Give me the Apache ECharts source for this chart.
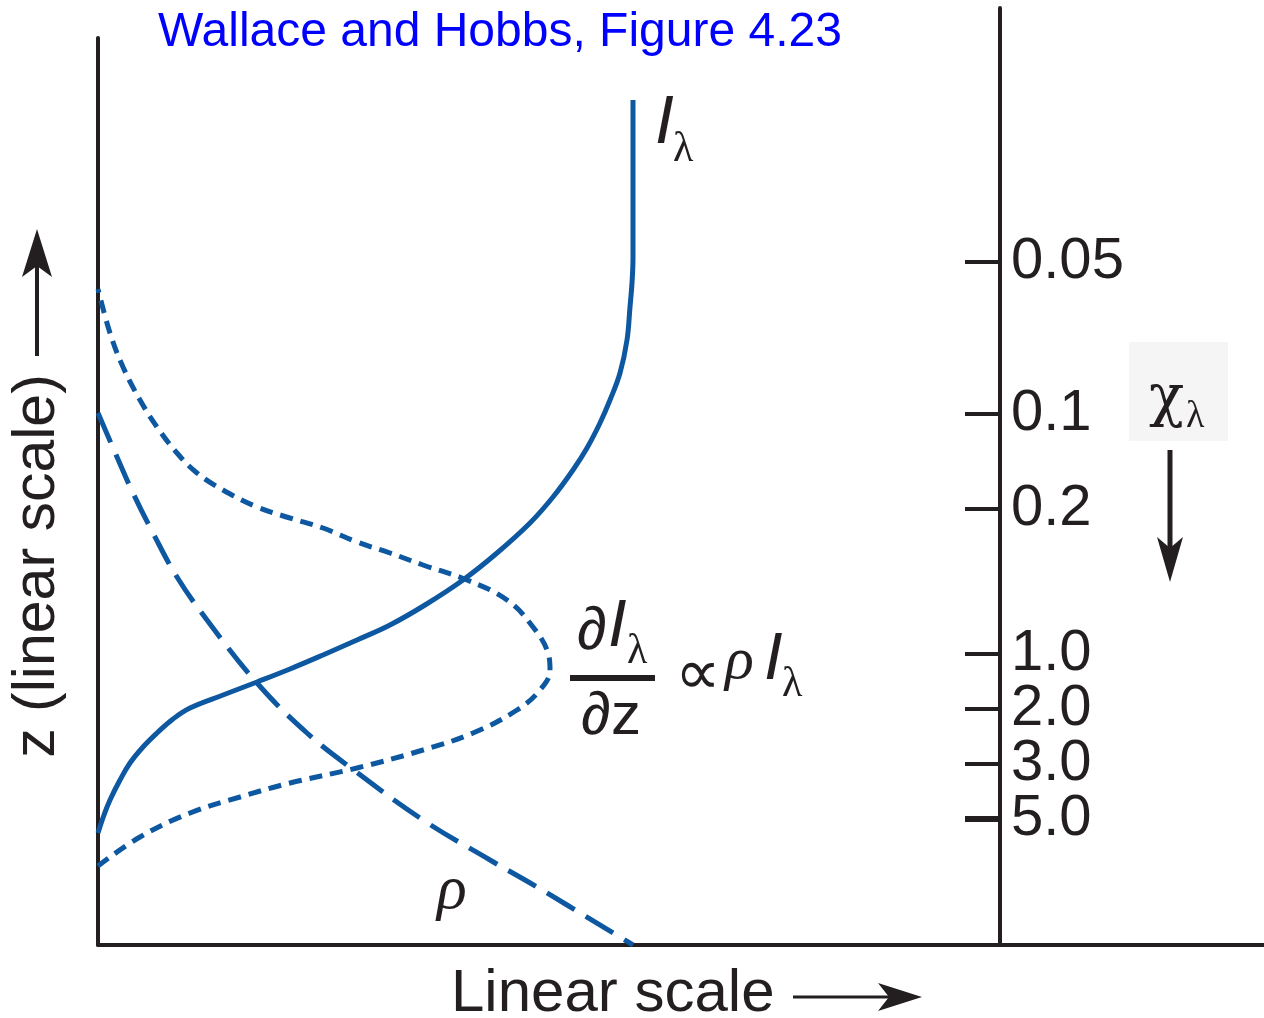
<!DOCTYPE html>
<html>
<head>
<meta charset="utf-8">
<title>Wallace and Hobbs, Figure 4.23</title>
<script src="https://cdn.jsdelivr.net/npm/echarts@6/dist/echarts.min.js"></script>
<style>
  html, body { margin: 0; padding: 0; background: #ffffff; }
  #chart { width: 1264px; height: 1018px; }
</style>
</head>
<body>
<div id="chart"></div>
<script>
// Horizontal scale: arbitrary linear units; vertical scale: height z in arbitrary linear units.
const xMax = 116.6;
const zMax = 90.7;
const zMaxTau = 93.7;

// Intensity I_lambda, from the bottom of the atmosphere to the top: [x, z]
const intensity = [
  [0, 11.2], [0.6, 13.0], [1.2, 14.5], [2.2, 16.5], [3.2, 18.2], [4.5, 19.8],
  [5.9, 21.2], [7.5, 22.6], [9.2, 23.7], [12.5, 25.0], [15.9, 26.3], [19.2, 27.6],
  [22.5, 29.0], [25.9, 30.5], [29.2, 32.0], [32.7, 34.0], [36.5, 36.5], [39.9, 39.2],
  [43.2, 42.2], [45.5, 44.8], [47.5, 47.5], [48.9, 49.7], [50.2, 52.2], [51.2, 54.5],
  [52.2, 57.2], [52.9, 60.5], [53.2, 63.8], [53.4, 66.2], [53.5, 68.8], [53.5, 74.5],
  [53.5, 79.5], [53.5, 84.5]
];

// Absorption rate dI/dz (proportional to rho * I), bottom to top: [x, z]
const absorption = [
  [0, 7.9], [4.2, 10.8], [9.2, 13.2], [14.2, 14.8], [19.2, 16.2], [25.9, 17.7],
  [32.5, 19.5], [37.5, 21.2], [41.9, 23.5], [44.2, 25.5], [45.2, 27.5], [45.0, 29.2],
  [43.5, 31.8], [40.9, 34.5], [36.9, 36.5], [32.5, 38.0], [29.2, 39.2], [25.9, 40.3],
  [22.5, 41.7], [19.2, 42.7], [15.9, 43.8], [12.5, 45.5], [9.9, 47.2], [7.9, 49.2],
  [5.9, 51.8], [4.2, 54.5], [2.5, 57.8], [1.2, 61.2], [0, 65.6]
];

// Density rho, top to bottom: [x, z]
const density = [
  [0, 53.2], [1.9, 48.8], [3.5, 45.2], [5.5, 41.2], [7.9, 36.8], [10.9, 32.5],
  [15.9, 26.2], [20.9, 21.2], [25.7, 17.4], [32.5, 12.5], [39.2, 8.5], [43.9, 5.8],
  [53.5, 0]
];

// Optical depth chi_lambda scale on the right-hand axis (lowest height first)
const tauLabels = ['5.0', '3.0', '2.0', '1.0', '0.2', '0.1', '0.05'];
const tauHeights = [12.6, 18.1, 23.6, 29.1, 43.6, 53.1, 68.3];

const ink = '#231f20';
const curveBlue = '#0d58a0';
const sans = '"Liberation Sans", Arial, sans-serif';
const serif = '"Liberation Serif", "Times New Roman", serif';

// The closely spaced depth ticks are split over coincident axes so that
// neighbouring labels never compete for the same slot; the unit-depth
// reference (5.0) gets a heavier tick of its own.
const tauSetDeep = tauHeights.filter(function (_, i) { return i === 0; });
const tauSetA = tauHeights.filter(function (_, i) { return i > 0 && i % 2 === 0; });
const tauSetB = tauHeights.filter(function (_, i) { return i % 2 === 1; });

function tauFormatter(v) {
  const i = tauHeights.findIndex(function (h) { return Math.abs(h - v) < 1e-6; });
  return i >= 0 ? tauLabels[i] : '';
}

function tauAxis(values, showLine, tickWidth) {
  return {
    gridIndex: 1, type: 'value', min: 0, max: zMaxTau, position: 'left', offset: 0,
    axisLine: { show: showLine, onZero: false, lineStyle: { color: ink, width: 4 } },
    axisTick: {
      show: true, inside: false, length: 35,
      customValues: values,
      lineStyle: { color: ink, width: tickWidth }
    },
    axisLabel: {
      show: true, inside: true, margin: 11, hideOverlap: false,
      showMinLabel: true, showMaxLabel: true,
      customValues: values,
      color: ink, fontFamily: sans, fontSize: 58, lineHeight: 40,
      formatter: tauFormatter
    },
    splitLine: { show: false }
  };
}

function txt(text, x, y, font, fill) {
  return {
    type: 'text', x: x, y: y, silent: true,
    style: {
      text: text, font: font, fill: fill || ink,
      align: 'left', verticalAlign: 'middle',
      textAlign: 'left', textVerticalAlign: 'middle'
    }
  };
}

function arrowHead(tip, w1, notch, w2) {
  return { type: 'polygon', silent: true, shape: { points: [tip, w1, notch, w2] }, style: { fill: ink } };
}

const chart = echarts.init(document.getElementById('chart'), null, { renderer: 'canvas' });

chart.setOption({
  animation: false,
  backgroundColor: '#ffffff',
  grid: [
    { left: 98, right: 0, top: 38, bottom: 73, containLabel: false },
    { left: 1000, right: 0, top: 8, bottom: 73, containLabel: false }
  ],
  xAxis: [
    {
      gridIndex: 0, type: 'value', min: 0, max: xMax,
      axisLine: { show: true, onZero: false, lineStyle: { color: ink, width: 4 } },
      axisTick: { show: false }, axisLabel: { show: false }, splitLine: { show: false }
    },
    { gridIndex: 1, type: 'value', min: 0, max: 1, show: false }
  ],
  yAxis: [
    {
      gridIndex: 0, type: 'value', min: 0, max: zMax,
      axisLine: { show: true, onZero: false, lineStyle: { color: ink, width: 4 } },
      axisTick: { show: false }, axisLabel: { show: false }, splitLine: { show: false }
    },
    tauAxis(tauSetA, true, 4),
    tauAxis(tauSetB, false, 4),
    tauAxis(tauSetDeep, false, 6)
  ],
  series: [
    {
      name: 'I_lambda', type: 'line', xAxisIndex: 0, yAxisIndex: 0,
      data: intensity, showSymbol: false, symbol: 'none',
      smooth: 0.4, clip: false,
      lineStyle: { color: curveBlue, width: 5 }
    },
    {
      name: 'dI/dz', type: 'line', xAxisIndex: 0, yAxisIndex: 0,
      data: absorption, showSymbol: false, symbol: 'none',
      smooth: 0.4, clip: false,
      lineStyle: { color: curveBlue, width: 5, type: [13, 8], cap: 'butt' }
    },
    {
      name: 'rho', type: 'line', xAxisIndex: 0, yAxisIndex: 0,
      data: density, showSymbol: false, symbol: 'none',
      smooth: 0.4, clip: false,
      lineStyle: { color: curveBlue, width: 5, type: [32, 13], cap: 'butt' }
    }
  ],
  graphic: [
    // heading
    txt('Wallace and Hobbs, Figure 4.23', 158, 33, '48px ' + sans, '#0000ff'),

    // vertical axis title with upward arrow
    {
      type: 'text', x: 38, y: 566, rotation: Math.PI / 2, silent: true,
      style: { text: 'z (linear scale)', font: '59px ' + sans, fill: ink,
        align: 'center', verticalAlign: 'middle', textAlign: 'center', textVerticalAlign: 'middle' }
    },
    { type: 'line', silent: true, shape: { x1: 37, y1: 356, x2: 37, y2: 262 }, style: { stroke: ink, lineWidth: 4 } },
    arrowHead([37, 229], [22, 277], [37, 266], [52, 277]),

    // horizontal axis title with rightward arrow
    txt('Linear scale', 451, 994, '60px ' + sans),
    { type: 'line', silent: true, shape: { x1: 793, y1: 997, x2: 892, y2: 997 }, style: { stroke: ink, lineWidth: 3 } },
    arrowHead([922, 997], [878, 983], [889, 997], [878, 1011]),

    // curve labels
    txt('I', 655, 124, 'italic 68px ' + sans),
    txt('\u03bb', 673, 150, '42px ' + serif),
    txt('\u03c1', 437, 892, 'italic 62px ' + serif),

    // dI/dz ∝ rho I
    txt('\u2202', 577, 632, '60px ' + sans),
    txt('I', 608, 627, 'italic 67px ' + sans),
    txt('\u03bb', 627, 652, '42px ' + serif),
    { type: 'rect', silent: true, shape: { x: 570, y: 675, width: 85, height: 6 }, style: { fill: ink } },
    txt('\u2202', 581, 717, '60px ' + sans),
    txt('z', 611, 717, '60px ' + sans),
    txt('\u221d', 675, 677, '64px "DejaVu Sans", sans-serif'),
    txt('\u03c1', 725, 662, 'italic 60px ' + serif),
    txt('I', 764, 660, 'italic 67px ' + sans),
    txt('\u03bb', 782, 685, '42px ' + serif),

    // optical depth marker
    { type: 'rect', silent: true, shape: { x: 1129, y: 342, width: 99, height: 99 }, style: { fill: '#f5f5f5' } },
    txt('\u03c7', 1149, 400, '58px "DejaVu Serif", serif'),
    txt('\u03bb', 1186, 417, '38px ' + serif),
    { type: 'line', silent: true, shape: { x1: 1170, y1: 450, x2: 1170, y2: 548 }, style: { stroke: ink, lineWidth: 5 } },
    arrowHead([1170, 582], [1157, 537], [1170, 548], [1183, 537])
  ]
});
</script>
</body>
</html>
